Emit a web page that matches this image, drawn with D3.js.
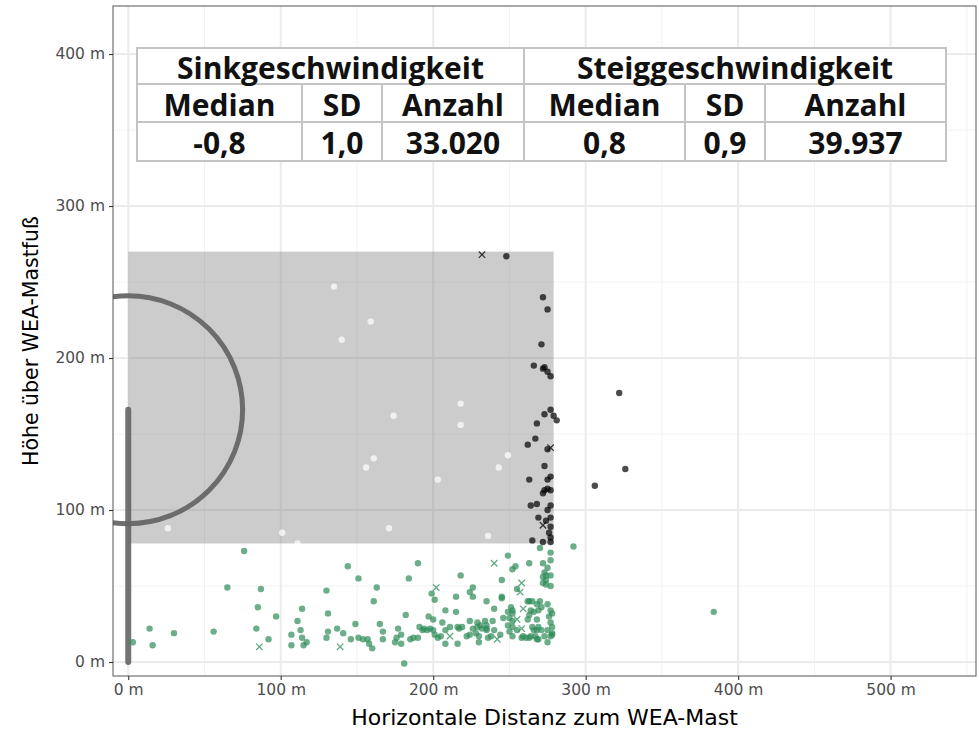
<!DOCTYPE html>
<html>
<head>
<meta charset="utf-8">
<script src="https://cdn.jsdelivr.net/npm/d3@7"></script>
<style>
  body { margin: 0; background: #fff; }
  text { font-family: "DejaVu Sans", sans-serif; }
</style>
</head>
<body>
<div id="chart"></div>
<script>
// data (metres)
const whitePoints = [[135,247],[140,212],[159,224],[156,128],[161,134],[174,162],[218,170],[218,156],
  [203,120],[243,128],[249,136],[171,88],[101,85],[26,88],[111,78],[236,83]];

const blackPoints = [[248,267],[272,240],[275,232],[271,209],[266,195],[272,193],[273,194],[275,191],
  [277,188],[322,177],[277,166],[273,163],[279,162],[281,159],[268,157],[267,147],[262,143],[275,140],
  [326,127],[273,129],[263,120],[275,120],[277,122],[306,116],[272,111],[273,113],[275,114],[277,113],
  [264,103],[268,104],[277,103],[275,100],[269,95],[277,95],[274,93],[277,89],[276,85],[277,82],
  [265,80],[272,79],[277,79]];
const blackCrosses = [[232,268],[277,141],[272,90]];

const greenPoints = [[76,73],[65,49],[87,48],[85,36],[97,30],[114,35],[111,27],[113,21],[14,22],[30,19],
  [56,20],[84,22],[3,13],[16,11],[92,15],[107,18],[107,11],[114,16],[115,11],[117,13],
  [144,63],[190,65],[151,55],[184,55],[130,47],[163,49],[161,40],[199,45],[201,41],[218,57],[224,46],
  [226,49],[226,43],[215,43],[235,40],[240,35],[131,32],[208,34],[215,33],[182,31],[197,30],[200,28],
  [206,26],[149,25],[165,25],[177,22],[167,20],[137,22],[141,19],[131,20],[130,16],[191,23],[194,22],
  [211,23],[216,23],[219,23],[224,27],[229,26],[226,22],[231,24],[235,22],[239,27],[240,21],[146,15],
  [151,16],[154,15],[157,15],[158,12],[160,9],[167,15],[175,13],[179,12],[176,16],[185,15],[190,16],
  [193,21],[203,16],[208,12],[216,12],[222,17],[230,13],[236,16],[181,-1],
  [179,18],[187,16],[196,21],[198,22],[200,21],[201,18],[205,17],[208,21],[217,22],[224,18],[229,23],
  [249,70],[263,65],[270,75],[277,72],[277,67],[272,65],[275,62],[254,63],[252,61],[273,59],[274,57],
  [272,56],[274,54],[277,57],[277,50],[272,52],[274,51],[255,48],[245,54],[245,42],[263,40],[265,40],
  [268,38],[270,40],[271,36],[269,34],[275,38],[277,34],[276,30],[278,32],[277,26],[278,23],[278,19],
  [275,21],[277,17],[275,13],[273,17],[271,21],[269,23],[268,28],[266,33],[264,34],[263,31],[265,23],
  [266,21],[267,17],[269,15],[263,16],[261,16],[258,16],[268,21],[249,33],[251,36],[252,34],[246,29],
  [250,29],[252,27],[249,24],[252,23],[250,20],[252,17],[255,21],[234,27],[228,19],[232,22],[235,21],
  [238,17],[230,17],[244,18],
  [292,76],[384,33],[245,43],[262,40],[252,32],[262,28],[235,24],[259,17],[264,17],[268,15],[278,18]];
const greenCrosses = [[86,10],[202,49],[240,65],[211,17],[139,10],[258,52],[257,46],[259,35],
  [255,28],[258,22],[242,15]];

// rotor zone, hub height and rotor radius
const zone = { x0: 0, x1: 279, y0: 78, y1: 270 };
const hubHeight = 166;
const rotorRadius = 75;

const xTicks = [0, 100, 200, 300, 400, 500];
const yTicks = [0, 100, 200, 300, 400];

const groupHeaders = ['Sinkgeschwindigkeit', 'Steiggeschwindigkeit'];
const colHeaders = ['Median', 'SD', 'Anzahl', 'Median', 'SD', 'Anzahl'];
const tableValues = ['-0,8', '1,0', '33.020', '0,8', '0,9', '39.937'];

const dimensions = {
  width: 979,
  height: 730,
  margin: { top: 6, right: 3, bottom: 54, left: 113 }
};
dimensions.ctrWidth = dimensions.width - dimensions.margin.left - dimensions.margin.right;
dimensions.ctrHeight = dimensions.height - dimensions.margin.top - dimensions.margin.bottom;

const svg = d3.select('#chart')
  .append('svg')
  .attr('width', dimensions.width)
  .attr('height', dimensions.height);

const ctr = svg.append('g')
  .attr('transform', `translate(${dimensions.margin.left}, ${dimensions.margin.top})`);

// Scales
const xScale = d3.scaleLinear()
  .domain([-10, 556])
  .range([0, dimensions.ctrWidth]);
const yScale = d3.scaleLinear()
  .domain([-9.2, 431.6])
  .range([dimensions.ctrHeight, 0]);

svg.append('defs').append('clipPath')
  .attr('id', 'panel-clip')
  .append('rect')
  .attr('width', dimensions.ctrWidth)
  .attr('height', dimensions.ctrHeight);

// grid
const minorX = d3.range(50, 600, 100).filter(v => v < 556);
const minorY = d3.range(50, 450, 100).filter(v => v < 431);
const grid = ctr.append('g');
grid.selectAll('.gx-minor').data(minorX).join('line')
  .attr('x1', xScale).attr('x2', xScale)
  .attr('y1', 0).attr('y2', dimensions.ctrHeight)
  .attr('stroke', '#f2f2f2').attr('stroke-width', 1);
grid.selectAll('.gy-minor').data(minorY).join('line')
  .attr('y1', yScale).attr('y2', yScale)
  .attr('x1', 0).attr('x2', dimensions.ctrWidth)
  .attr('stroke', '#f2f2f2').attr('stroke-width', 1);
grid.selectAll('.gx').data(xTicks).join('line')
  .attr('x1', xScale).attr('x2', xScale)
  .attr('y1', 0).attr('y2', dimensions.ctrHeight)
  .attr('stroke', '#ebebeb').attr('stroke-width', 2);
grid.selectAll('.gy').data(yTicks).join('line')
  .attr('y1', yScale).attr('y2', yScale)
  .attr('x1', 0).attr('x2', dimensions.ctrWidth)
  .attr('stroke', '#ebebeb').attr('stroke-width', 2);

const plot = ctr.append('g').attr('clip-path', 'url(#panel-clip)');

// rotor zone
plot.append('rect')
  .attr('x', xScale(zone.x0))
  .attr('y', yScale(zone.y1))
  .attr('width', xScale(zone.x1) - xScale(zone.x0))
  .attr('height', yScale(zone.y0) - yScale(zone.y1))
  .attr('fill', '#7f7f7f')
  .attr('opacity', 0.4);

// turbine: mast + rotor circle
plot.append('line')
  .attr('x1', xScale(0)).attr('x2', xScale(0))
  .attr('y1', yScale(0)).attr('y2', yScale(hubHeight))
  .attr('stroke', '#666').attr('stroke-width', 6)
  .attr('stroke-linecap', 'round')
  .attr('opacity', 0.9);
plot.append('ellipse')
  .attr('cx', xScale(0))
  .attr('cy', yScale(hubHeight))
  .attr('rx', xScale(rotorRadius) - xScale(0))
  .attr('ry', yScale(0) - yScale(rotorRadius))
  .attr('fill', 'none')
  .attr('stroke', '#666').attr('stroke-width', 5)
  .attr('opacity', 0.95);

// points
const drawDots = (data, color) => {
  plot.append('g').selectAll('circle')
    .data(data)
    .join('circle')
    .attr('cx', d => xScale(d[0]))
    .attr('cy', d => yScale(d[1]))
    .attr('r', 3.2)
    .attr('fill', color)
    .attr('fill-opacity', 0.7);
};
const drawCrosses = (data, color) => {
  plot.append('g').selectAll('path')
    .data(data)
    .join('path')
    .attr('d', d => {
      const cx = xScale(d[0]), cy = yScale(d[1]), s = 3.2;
      return `M${cx - s},${cy - s}L${cx + s},${cy + s}M${cx - s},${cy + s}L${cx + s},${cy - s}`;
    })
    .attr('stroke', color)
    .attr('stroke-width', 1.3)
    .attr('stroke-opacity', 0.75);
};
drawDots(whitePoints, '#ffffff');
drawDots(greenPoints, '#2e8b57');
drawCrosses(greenCrosses, '#2e8b57');
drawDots(blackPoints, '#000000');
drawCrosses(blackCrosses, '#000000');

// panel border
ctr.append('rect')
  .attr('width', dimensions.ctrWidth)
  .attr('height', dimensions.ctrHeight)
  .attr('fill', 'none')
  .attr('stroke', '#555')
  .attr('stroke-width', 1);

// Axes
const xAxis = d3.axisBottom(xScale)
  .tickValues(xTicks)
  .tickSize(4)
  .tickPadding(4)
  .tickFormat(d => `${d} m`);
const xAxisGroup = ctr.append('g')
  .attr('transform', `translate(0, ${dimensions.ctrHeight})`)
  .call(xAxis);
const yAxis = d3.axisLeft(yScale)
  .tickValues(yTicks)
  .tickSize(4)
  .tickPadding(4)
  .tickFormat(d => `${d} m`);
const yAxisGroup = ctr.append('g').call(yAxis);

[xAxisGroup, yAxisGroup].forEach(g => {
  g.select('.domain').remove();
  g.selectAll('.tick line').attr('stroke', '#333').attr('stroke-width', 1.1);
  g.selectAll('.tick text')
    .attr('fill', '#4d4d4d')
    .style('font-size', '15.5px')
    .style('font-family', '"DejaVu Sans", sans-serif');
});

svg.append('text')
  .attr('x', dimensions.margin.left + dimensions.ctrWidth / 2)
  .attr('y', 725)
  .attr('text-anchor', 'middle')
  .style('font-size', '22px')
  .text('Horizontale Distanz zum WEA-Mast');

svg.append('text')
  .attr('transform', `translate(38, ${dimensions.margin.top + dimensions.ctrHeight / 2}) rotate(-90)`)
  .attr('text-anchor', 'middle')
  .style('font-size', '20.5px')
  .text('Höhe über WEA-Mastfuß');

// stats table
const colEdges = [137, 302, 382, 524, 685, 765, 946];
const rowEdges = [48, 84, 122, 161];
const table = svg.append('g');
const border = '#c4c4c4';

table.append('rect')
  .attr('x', colEdges[0]).attr('y', rowEdges[0])
  .attr('width', colEdges[6] - colEdges[0])
  .attr('height', rowEdges[3] - rowEdges[0])
  .attr('fill', '#fff')
  .attr('stroke', border).attr('stroke-width', 2);

table.selectAll('.hline').data(rowEdges.slice(1, 3)).join('line')
  .attr('x1', colEdges[0]).attr('x2', colEdges[6])
  .attr('y1', d => d).attr('y2', d => d)
  .attr('stroke', border).attr('stroke-width', 2);

table.selectAll('.vline').data(colEdges.slice(1, 6)).join('line')
  .attr('x1', d => d).attr('x2', d => d)
  .attr('y1', (d, i) => i === 2 ? rowEdges[0] : rowEdges[1])
  .attr('y2', rowEdges[3])
  .attr('stroke', border).attr('stroke-width', 2);

const cellText = (sel) => sel
  .attr('text-anchor', 'middle')
  .attr('dominant-baseline', 'central')
  .style('font-family', '"Open Sans", sans-serif')
  .style('font-weight', 700)
  .style('font-size', '30px')
  .attr('fill', '#111');

table.selectAll('.group').data(groupHeaders).join('text')
  .attr('x', (d, i) => (colEdges[i * 3] + colEdges[i * 3 + 3]) / 2)
  .attr('y', (rowEdges[0] + rowEdges[1]) / 2 + 1)
  .text(d => d)
  .call(cellText);

table.selectAll('.colhead').data(colHeaders).join('text')
  .attr('x', (d, i) => (colEdges[i] + colEdges[i + 1]) / 2)
  .attr('y', (rowEdges[1] + rowEdges[2]) / 2 + 1)
  .text(d => d)
  .call(cellText);

table.selectAll('.value').data(tableValues).join('text')
  .attr('x', (d, i) => (colEdges[i] + colEdges[i + 1]) / 2)
  .attr('y', (rowEdges[2] + rowEdges[3]) / 2 + 1)
  .text(d => d)
  .call(cellText);
</script>
</body>
</html>
